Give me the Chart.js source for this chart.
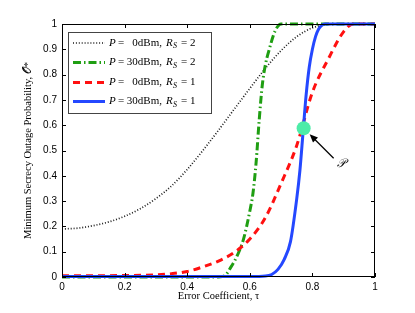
<!DOCTYPE html>
<html><head><meta charset="utf-8">
<script src="https://cdn.jsdelivr.net/npm/chart.js@4.4.1/dist/chart.umd.min.js"></script>
<style>html,body{margin:0;padding:0;background:#fff}#c{display:block}</style>
</head><body>
<canvas id="c" width="415" height="313"></canvas>
<script>
// ---- data ----
const xTicks = [0, 0.2, 0.4, 0.6, 0.8, 1];
const yTicks = [0, 0.1, 0.2, 0.3, 0.4, 0.5, 0.6, 0.7, 0.8, 0.9, 1];

const tauBlack = [0, 0.05, 0.1, 0.15, 0.2, 0.25, 0.3, 0.35, 0.4, 0.45, 0.5, 0.55, 0.6, 0.65, 0.7, 0.75, 0.8, 0.85, 0.9, 0.95, 1];
const valBlack = [0.19, 0.193, 0.203, 0.218, 0.24, 0.27, 0.31, 0.36, 0.425, 0.5, 0.58, 0.663, 0.745, 0.825, 0.895, 0.95, 0.985, 0.998, 1, 1, 1];

const tauGreen = [0, 0.2, 0.4, 0.5, 0.52, 0.54, 0.56, 0.58, 0.6, 0.61, 0.62, 0.63, 0.64, 0.65, 0.66, 0.68, 0.7, 0.8, 0.9, 1];
const valGreen = [0, 0, 0, 0, 0.005, 0.04, 0.085, 0.15, 0.26, 0.33, 0.45, 0.62, 0.76, 0.84, 0.89, 0.97, 1, 1, 1, 1];

const tauRed = [0, 0.1, 0.2, 0.3, 0.35, 0.4, 0.45, 0.5, 0.55, 0.6, 0.65, 0.7, 0.75, 0.8, 0.85, 0.9, 0.93, 0.95, 1];
const valRed = [0.005, 0.005, 0.006, 0.008, 0.013, 0.022, 0.04, 0.063, 0.097, 0.15, 0.235, 0.37, 0.52, 0.73, 0.86, 0.97, 1, 1, 1];

const tauBlue = [0, 0.3, 0.6, 0.65, 0.67, 0.69, 0.71, 0.73, 0.75, 0.76, 0.77, 0.78, 0.79, 0.8, 0.81, 0.82, 0.83, 0.84, 0.9, 1];
const valBlue = [0.002, 0.002, 0.002, 0.004, 0.01, 0.03, 0.07, 0.14, 0.31, 0.42, 0.57, 0.72, 0.83, 0.9, 0.95, 0.98, 0.995, 1, 1, 1];

const pointP = {x: 0.772, y: 0.588};

const seriesLabels = [
  {p: '0dBm,', r: '2'},
  {p: '30dBm,', r: '2'},
  {p: '0dBm,', r: '1'},
  {p: '30dBm,', r: '1'}
];

const pts = (xs, ys) => xs.map((x, i) => ({x: x, y: ys[i]}));

const colBlack = '#1a1a1a', colGreen = '#1f9e12', colRed = '#ff1010', colBlue = '#2448ff';
const styles = [
  {c: colBlack, w: 1.7, d: [1, 1.9]},
  {c: colGreen, w: 3, d: [8, 3, 1.5, 3]},
  {c: colRed, w: 3, d: [7, 5]},
  {c: colBlue, w: 3, d: []}
];

const serif = '"Liberation Serif", "DejaVu Serif", serif';
const sans = '"Liberation Sans", Arial, sans-serif';

const decor = {
  id: 'decor',
  afterDraw(chart) {
    const ctx = chart.ctx, a = chart.chartArea;
    const xs = chart.scales.x, ys = chart.scales.y;
    ctx.save();
    // frame
    ctx.strokeStyle = '#000'; ctx.lineWidth = 1; ctx.setLineDash([]);
    ctx.strokeRect(a.left + 0.5, a.top + 0.5, a.right - a.left - 1, a.bottom - a.top - 1);
    // inward ticks
    ctx.beginPath();
    xTicks.forEach(v => {
      const px = Math.round(xs.getPixelForValue(v)) + 0.5;
      ctx.moveTo(px, a.bottom); ctx.lineTo(px, a.bottom - 4);
      ctx.moveTo(px, a.top); ctx.lineTo(px, a.top + 4);
    });
    yTicks.forEach(v => {
      const py = Math.round(ys.getPixelForValue(v)) + 0.5;
      ctx.moveTo(a.left, py); ctx.lineTo(a.left + 4, py);
      ctx.moveTo(a.right, py); ctx.lineTo(a.right - 4, py);
    });
    ctx.stroke();

    // arrow to P
    const mx = xs.getPixelForValue(pointP.x), my = ys.getPixelForValue(pointP.y);
    const tipX = mx + 6, tipY = my + 6, tailX = mx + 30, tailY = my + 30;
    ctx.strokeStyle = '#000'; ctx.lineWidth = 1.2;
    ctx.beginPath(); ctx.moveTo(tailX, tailY); ctx.lineTo(tipX + 3, tipY + 3); ctx.stroke();
    const ang = Math.atan2(tipY - tailY, tipX - tailX);
    ctx.fillStyle = '#000';
    ctx.beginPath();
    ctx.moveTo(tipX, tipY);
    ctx.lineTo(tipX - 9 * Math.cos(ang - 0.4), tipY - 9 * Math.sin(ang - 0.4));
    ctx.lineTo(tipX - 9 * Math.cos(ang + 0.4), tipY - 9 * Math.sin(ang + 0.4));
    ctx.closePath(); ctx.fill();
    ctx.font = 'italic 12px ' + serif;
    ctx.textAlign = 'left'; ctx.textBaseline = 'middle';
    ctx.fillText('\u{1D4AB}', mx + 33, my + 36);

    // legend
    const lx = 68, ly = 32, lw = 143, lh = 81;
    ctx.fillStyle = '#fff';
    ctx.fillRect(lx, ly, lw, lh);
    ctx.strokeStyle = '#444'; ctx.lineWidth = 1;
    ctx.strokeRect(lx + 0.5, ly + 0.5, lw, lh);
    const rows = [43, 62.5, 82.5, 101.5];
    seriesLabels.forEach((s, i) => {
      const y = rows[i], st = styles[i];
      ctx.strokeStyle = st.c; ctx.lineWidth = st.w; ctx.setLineDash(st.d);
      ctx.beginPath(); ctx.moveTo(73, y); ctx.lineTo(105, y); ctx.stroke();
      ctx.setLineDash([]);
      ctx.fillStyle = '#000'; ctx.textBaseline = 'middle'; ctx.textAlign = 'left';
      ctx.font = 'italic 11px ' + serif;
      ctx.fillText('P', 109, y);
      ctx.font = '11px ' + serif;
      ctx.fillText('=', 118, y);
      ctx.textAlign = 'right';
      ctx.fillText(s.p, 162, y);
      ctx.textAlign = 'left';
      ctx.font = 'italic 11px ' + serif;
      ctx.fillText('R', 166, y);
      ctx.font = 'italic 8px ' + serif;
      ctx.fillText('S', 173, y + 3);
      ctx.font = '11px ' + serif;
      ctx.fillText('= ' + s.r, 181, y);
    });
    ctx.restore();
  }
};

const orders = [4, 3, 2, 1];
const ds = [
  {data: pts(tauBlack, valBlack)},
  {data: pts(tauGreen, valGreen)},
  {data: pts(tauRed, valRed)},
  {data: pts(tauBlue, valBlue)}
].map((d, i) => Object.assign(d, {
  borderColor: styles[i].c, borderWidth: styles[i].w, borderDash: styles[i].d,
  pointRadius: 0, fill: false, cubicInterpolationMode: 'monotone', clip: 4, order: orders[i]
}));
ds.push({data: [pointP], showLine: false, pointRadius: 7, pointBackgroundColor: '#4deca8',
  pointBorderColor: '#4deca8', pointBorderWidth: 0, clip: false, order: 0});

new Chart(document.getElementById('c'), {
  type: 'line',
  data: {datasets: ds},
  options: {
    responsive: false, animation: false, devicePixelRatio: 1,
    layout: {padding: {left: 22, right: 40, top: 24, bottom: 10}},
    plugins: {legend: {display: false}, tooltip: {enabled: false}},
    scales: {
      x: {
        type: 'linear', min: 0, max: 1,
        grid: {display: false, drawTicks: false},
        border: {display: false},
        afterFit: s => { s.height = 26; },
        afterBuildTicks: s => { s.ticks = xTicks.map(v => ({value: v})); },
        ticks: {color: '#000', font: {family: sans, size: 10}, padding: 4,
          callback: v => (v === 0 || v === 1) ? String(v) : v.toFixed(1)},
        title: {display: true, text: 'Error Coefficient, \u03C4', color: '#000',
          font: {family: serif, size: 10.5}, padding: {top: 0, bottom: 0}}
      },
      y: {
        type: 'linear', min: 0, max: 1,
        grid: {display: false, drawTicks: false},
        border: {display: false},
        afterFit: s => { s.width = 40; },
        afterBuildTicks: s => { s.ticks = yTicks.map(v => ({value: v})); },
        ticks: {color: '#000', font: {family: sans, size: 10}, padding: 5,
          callback: v => (v === 0 || v === 1) ? String(v) : v.toFixed(1)},
        title: {display: true, text: 'Minimum Secrecy Outage Probability, \u{1D4AA}*', color: '#000',
          font: {family: serif, size: 10.5}, padding: {top: 0, bottom: 0}}
      }
    }
  },
  plugins: [decor]
});
</script>
</body></html>
